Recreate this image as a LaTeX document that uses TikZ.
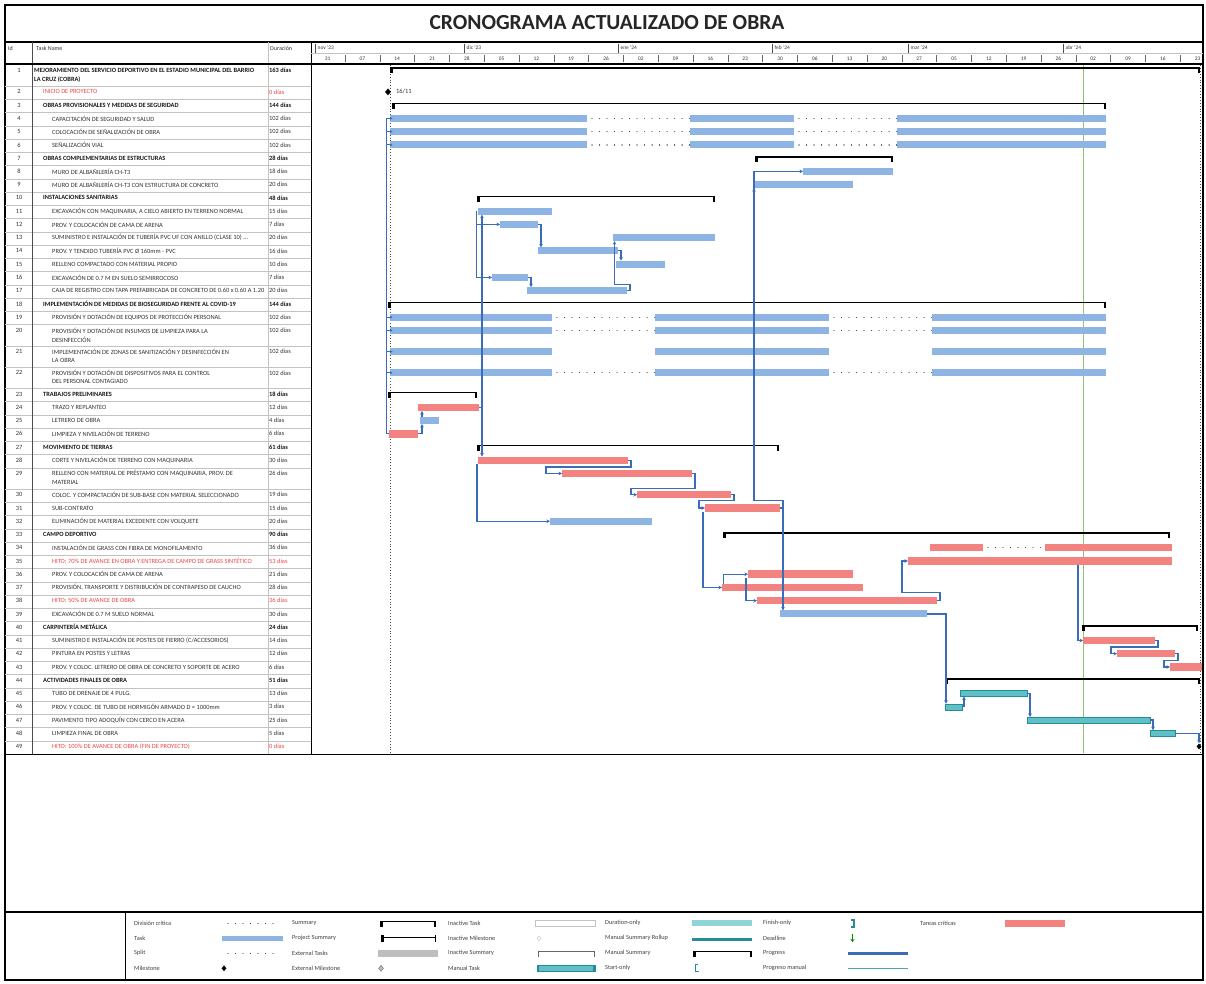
\documentclass[tikz,border=0pt]{standalone}
\usepackage{fontspec}
\setmainfont{Carlito}
\usetikzlibrary{arrows.meta,calc,shapes.geometric}
\definecolor{taskblue}{RGB}{141,180,226}
\definecolor{critred}{RGB}{242,131,128}
\definecolor{linkblue}{RGB}{58,108,184}
\definecolor{teal1}{RGB}{96,192,200}
\definecolor{teal2}{RGB}{40,140,150}
\definecolor{gridgray}{RGB}{195,195,195}
\definecolor{statgreen}{RGB}{140,195,110}
\definecolor{redtxt}{RGB}{235,70,70}
\definecolor{extgray}{RGB}{190,190,190}
\newcommand{\gbar}[5]{\node[#5, anchor=west, minimum width={(#4-#3)*1pt}] (#1) at (#3,#2) {};}
\newcommand{\gsum}[4]{\node[sumbar, anchor=west, minimum width={(#4-#3)*1pt}] (#1) at (#3,#2) {};
  \fill ($(#1.west)+(0,-0.8)$) rectangle ++(2.5,6);
  \fill ($(#1.east)+(-2.5,-0.8)$) rectangle ++(2.5,6);}
\begin{document}
\begin{tikzpicture}[x=1pt,y=-1pt,
  task/.style={fill=taskblue, inner sep=0, outer sep=0, minimum height=7pt, draw=none},
  crit/.style={fill=critred, inner sep=0, outer sep=0, minimum height=7.5pt, draw=none},
  mtask/.style={fill=teal1, inner sep=0, outer sep=0, minimum height=6pt, draw=teal2, line width=0.4pt},
  sumbar/.style={fill=black, inner sep=0, outer sep=0, minimum height=1.6pt},
  linkline/.style={draw=linkblue, line width=1.1pt},
  link/.style={draw=linkblue, line width=1.1pt, -{Stealth[length=3.5pt,width=3.6pt]}},
  splitdots/.style={draw=black!70, line width=1.3pt, dash pattern=on 0.01pt off 7.5pt, line cap=round},
  mil/.style={diamond, fill=black, inner sep=0, minimum width=6pt, minimum height=7pt},
  txt/.style={font=\fontsize{6.4}{9}\selectfont, inner sep=0, text=black!80},
  stxt/.style={txt, font=\fontsize{6.4}{9}\selectfont\bfseries, text=black!90},
  rtxt/.style={txt, text=redtxt},
  idtxt/.style={txt, anchor=center},
  hdr/.style={font=\fontsize{6}{7}\selectfont, inner sep=0, text=black!80},
  wk/.style={font=\fontsize{5.4}{6}\selectfont, inner sep=0, text=black!80},
  lg/.style={font=\fontsize{6.3}{7}\selectfont, inner sep=0, text=black!75, anchor=west}]
\useasboundingbox (0,0) rectangle (1206,983);
\fill[white] (0,0) rectangle (1206,983);

% ---------- frame and title
\draw[line width=1.2pt] (5,5) rectangle (1203,980);
\node[font=\fontsize{21.5}{24}\selectfont\bfseries, text=black!85, inner sep=0] (title) at (607,22.5) {CRONOGRAMA ACTUALIZADO DE OBRA};
\draw[line width=1.5pt] (5,42) -- (1203,42);

% ---------- table grid
\foreach \yy in {86.2,99.45,112.7,125.95,139.2,152.45,165.7,178.95,192.2,205.45,218.7,231.95,245.2,258.45,271.7,284.95,298.2,311.45,324.7,345.9,367.1,388.3,401.55,414.8,428.05,441.3,454.55,467.8,489.0,502.25,515.5,528.75,542.0,555.25,568.5,581.75,595.0,608.25,621.5,634.75,648.0,661.25,674.5,687.75,701.0,714.25,727.5,740.75}
  \draw[gridgray, line width=0.5pt] (5,\yy) -- (311,\yy);
\draw[black!70, line width=0.8pt] (32,42) -- (32,754);
\draw[gridgray, line width=0.6pt] (268,42) -- (268,754);
\draw[line width=1pt] (311,42) -- (311,754);
\draw[gridgray, line width=0.5pt] (311,53) -- (1203,53);
\draw[line width=1.3pt] (5,64) -- (1203,64);
\draw[line width=1pt] (5,754) -- (1203,754);
\draw[line width=1.2pt] (5,912) -- (1203,912);
\draw[line width=0.8pt] (125,912) -- (125,980);

% ---------- header
\node[hdr, anchor=west] (hId) at (8,48) {Id};
\node[hdr, anchor=west] (hName) at (36,48) {Task Name};
\node[hdr, anchor=west] (hDur) at (270,48) {Duración};
\foreach \mx/\ml [count=\i] in {315/nov '23,464/dic '23,618/ene '24,772/feb '24,908/mar '24,1063/abr '24}{
  \draw[black!70, line width=0.6pt] (\mx,43.5) -- (\mx,53);
  \node[wk, anchor=west] (mon\i) at (\mx+2.5,47.5) {\ml};}
\foreach \k in {1,...,25}
  \draw[black!60, line width=0.5pt] ({310.2+34.8*\k},55) -- ({310.2+34.8*\k},62);
\foreach \lab [count=\k from 0] in {31,07,14,21,28,05,12,19,26,02,09,16,23,30,06,13,20,27,05,12,19,26,02,09,16,23}
  \node[wk] (wk\k) at ({310.2+34.8*(\k+0.5)},58.5) {\lab};

% ---------- ids and durations
\foreach \n/\yy/\st/\d in {1/70.7/stxt/163 días,2/91.9/rtxt/0 días,3/105.15/stxt/144 días,4/118.4/txt/102 días,5/131.65/txt/102 días,6/144.9/txt/102 días,7/158.15/stxt/28 días,8/171.4/txt/18 días,9/184.65/txt/20 días,10/197.9/stxt/48 días,11/211.15/txt/15 días,12/224.4/txt/7 días,13/237.65/txt/20 días,14/250.9/txt/16 días,15/264.15/txt/10 días,16/277.4/txt/7 días,17/290.65/txt/20 días,18/303.9/stxt/144 días,19/317.15/txt/102 días,20/330.4/txt/102 días,21/351.6/txt/102 días,22/372.8/txt/102 días,23/394.0/stxt/18 días,24/407.25/txt/12 días,25/420.5/txt/4 días,26/433.75/txt/6 días,27/447.0/stxt/61 días,28/460.25/txt/30 días,29/473.5/txt/26 días,30/494.7/txt/19 días,31/507.95/txt/15 días,32/521.2/txt/20 días,33/534.45/stxt/90 días,34/547.7/txt/36 días,35/560.95/rtxt/53 días,36/574.2/txt/21 días,37/587.45/txt/28 días,38/600.7/rtxt/36 días,39/613.95/txt/30 días,40/627.2/stxt/24 días,41/640.45/txt/14 días,42/653.7/txt/12 días,43/666.95/txt/6 días,44/680.2/stxt/51 días,45/693.45/txt/13 días,46/706.7/txt/3 días,47/719.95/txt/25 días,48/733.2/txt/5 días,49/746.45/rtxt/0 días}{
  \node[idtxt] (id\n) at (19,\yy) {\n};
  \node[\st, anchor=west] (du\n) at (269,\yy) {\d};}

% ---------- task names
\begin{scope}
\clip (33,65) rectangle (267.5,754);
\node[stxt, anchor=west] (nm1) at (34,70.7) {MEJORAMIENTO DEL SERVICIO DEPORTIVO EN EL ESTADIO MUNICIPAL DEL BARRIO};
\node[stxt, anchor=west] (nm1b) at (34,79.7) {LA CRUZ (COBRA)};
\node[rtxt, anchor=west] (nm2) at (43,91.9) {INICIO DE PROYECTO};
\node[stxt, anchor=west] (nm3) at (43,105.15) {OBRAS PROVISIONALES Y MEDIDAS DE SEGURIDAD};
\node[txt, anchor=west] (nm4) at (52,118.4) {CAPACITACIÓN DE SEGURIDAD Y SALUD};
\node[txt, anchor=west] (nm5) at (52,131.65) {COLOCACIÓN DE SEÑALIZACIÓN DE OBRA};
\node[txt, anchor=west] (nm6) at (52,144.9) {SEÑALIZACIÓN VIAL};
\node[stxt, anchor=west] (nm7) at (43,158.15) {OBRAS COMPLEMENTARIAS DE ESTRUCTURAS};
\node[txt, anchor=west] (nm8) at (52,171.4) {MURO DE ALBAÑILERÍA CH-T3};
\node[txt, anchor=west] (nm9) at (52,184.65) {MURO DE ALBAÑILERÍA CH-T3 CON ESTRUCTURA DE CONCRETO};
\node[stxt, anchor=west] (nm10) at (43,197.9) {INSTALACIONES SANITARIAS};
\node[txt, anchor=west] (nm11) at (52,211.15) {EXCAVACIÓN CON MAQUINARIA, A CIELO ABIERTO EN TERRENO NORMAL};
\node[txt, anchor=west] (nm12) at (52,224.4) {PROV. Y COLOCACIÓN DE CAMA DE ARENA};
\node[txt, anchor=west] (nm13) at (52,237.65) {SUMINISTRO E INSTALACIÓN DE TUBERÍA PVC UF CON ANILLO (CLASE 10) ...};
\node[txt, anchor=west] (nm14) at (52,250.9) {PROV. Y TENDIDO TUBERÍA PVC Ø 160mm - PVC};
\node[txt, anchor=west] (nm15) at (52,264.15) {RELLENO COMPACTADO CON MATERIAL PROPIO};
\node[txt, anchor=west] (nm16) at (52,277.4) {EXCAVACIÓN DE 0.7 M EN SUELO SEMIRROCOSO};
\node[txt, anchor=west] (nm17) at (52,290.65) {CAJA DE REGISTRO CON TAPA PREFABRICADA DE CONCRETO DE 0.60 x 0.60 A 1.20};
\node[stxt, anchor=west] (nm18) at (43,303.9) {IMPLEMENTACIÓN DE MEDIDAS DE BIOSEGURIDAD FRENTE AL COVID-19};
\node[txt, anchor=west] (nm19) at (52,317.15) {PROVISIÓN Y DOTACIÓN DE EQUIPOS DE PROTECCIÓN PERSONAL};
\node[txt, anchor=west] (nm20) at (52,330.4) {PROVISIÓN Y DOTACIÓN DE INSUMOS DE LIMPIEZA PARA LA};
\node[txt, anchor=west] (nm20b) at (52,339.4) {DESINFECCIÓN};
\node[txt, anchor=west] (nm21) at (52,351.6) {IMPLEMENTACIÓN DE ZONAS DE SANITIZACIÓN Y DESINFECCIÓN EN};
\node[txt, anchor=west] (nm21b) at (52,360.6) {LA OBRA};
\node[txt, anchor=west] (nm22) at (52,372.8) {PROVISIÓN Y DOTACIÓN DE DISPOSITIVOS PARA EL CONTROL};
\node[txt, anchor=west] (nm22b) at (52,381.8) {DEL PERSONAL CONTAGIADO};
\node[stxt, anchor=west] (nm23) at (43,394.0) {TRABAJOS PRELIMINARES};
\node[txt, anchor=west] (nm24) at (52,407.25) {TRAZO Y REPLANTEO};
\node[txt, anchor=west] (nm25) at (52,420.5) {LETRERO DE OBRA};
\node[txt, anchor=west] (nm26) at (52,433.75) {LIMPIEZA Y NIVELACIÓN DE TERRENO};
\node[stxt, anchor=west] (nm27) at (43,447.0) {MOVIMIENTO DE TIERRAS};
\node[txt, anchor=west] (nm28) at (52,460.25) {CORTE Y NIVELACIÓN DE TERRENO CON MAQUINARIA};
\node[txt, anchor=west] (nm29) at (52,473.5) {RELLENO CON MATERIAL DE PRÉSTAMO CON MAQUINARIA, PROV. DE};
\node[txt, anchor=west] (nm29b) at (52,482.5) {MATERIAL};
\node[txt, anchor=west] (nm30) at (52,494.7) {COLOC. Y COMPACTACIÓN DE SUB-BASE CON MATERIAL SELECCIONADO};
\node[txt, anchor=west] (nm31) at (52,507.95) {SUB-CONTRATO};
\node[txt, anchor=west] (nm32) at (52,521.2) {ELIMINACIÓN DE MATERIAL EXCEDENTE CON VOLQUETE};
\node[stxt, anchor=west] (nm33) at (43,534.45) {CAMPO DEPORTIVO};
\node[txt, anchor=west] (nm34) at (52,547.7) {INSTALACIÓN DE GRASS CON FIBRA DE MONOFILAMENTO};
\node[rtxt, anchor=west] (nm35) at (52,560.95) {HITO: 70\% DE AVANCE EN OBRA Y ENTREGA DE CAMPO DE GRASS SINTÉTICO};
\node[txt, anchor=west] (nm36) at (52,574.2) {PROV. Y COLOCACIÓN DE CAMA DE ARENA};
\node[txt, anchor=west] (nm37) at (52,587.45) {PROVISIÓN, TRANSPORTE Y DISTRIBUCIÓN DE CONTRAPESO DE CAUCHO};
\node[rtxt, anchor=west] (nm38) at (52,600.7) {HITO: 50\% DE AVANCE DE OBRA};
\node[txt, anchor=west] (nm39) at (52,613.95) {EXCAVACIÓN DE 0.7 M SUELO NORMAL};
\node[stxt, anchor=west] (nm40) at (43,627.2) {CARPINTERÍA METÁLICA};
\node[txt, anchor=west] (nm41) at (52,640.45) {SUMINISTRO E INSTALACIÓN DE POSTES DE FIERRO (C/ACCESORIOS)};
\node[txt, anchor=west] (nm42) at (52,653.7) {PINTURA EN POSTES Y LETRAS};
\node[txt, anchor=west] (nm43) at (52,666.95) {PROV. Y COLOC. LETRERO DE OBRA DE CONCRETO Y SOPORTE DE ACERO};
\node[stxt, anchor=west] (nm44) at (43,680.2) {ACTIVIDADES FINALES DE OBRA};
\node[txt, anchor=west] (nm45) at (52,693.45) {TUBO DE DRENAJE DE 4 PULG.};
\node[txt, anchor=west] (nm46) at (52,706.7) {PROV. Y COLOC. DE TUBO DE HORMIGÓN ARMADO D = 1000mm};
\node[txt, anchor=west] (nm47) at (52,719.95) {PAVIMENTO TIPO ADOQUÍN CON CERCO EN ACERA};
\node[txt, anchor=west] (nm48) at (52,733.2) {LIMPIEZA FINAL DE OBRA};
\node[rtxt, anchor=west] (nm49) at (52,746.45) {HITO: 100\% DE AVANCE DE OBRA (FIN DE PROYECTO)};
\end{scope}

% ---------- chart reference lines
\draw[black!70, line width=0.9pt, dotted] (390,65) -- (390,753);
\draw[black!70, line width=0.9pt, dotted] (1200,65) -- (1200,753);
\draw[statgreen, line width=1pt] (1083,65) -- (1083,753);

% ---------- summaries
\gsum{s1}{68}{390}{1200}
\gsum{s3}{103.5}{392}{1106}
\gsum{s7}{156.75}{755}{893}
\gsum{s10}{196.5}{477}{715}
\gsum{s18}{302.5}{388}{1106}
\gsum{s23}{392.6}{388}{477}
\gsum{s27}{445.6}{477}{779}
\gsum{s33}{533}{723}{1170}
\gsum{s40}{625.8}{1082}{1198}
\gsum{s44}{678.8}{945}{1200}

% ---------- milestones
\node[mil] (m2) at (388,91.9) {};
\node[txt, anchor=west] (m2lab) at (396,91.9) {16/11};
\node[mil, minimum width=5pt, minimum height=6pt] (m49) at (1199,746.45) {};

% ---------- split tasks
\foreach \r/\yy in {4/118.4,5/131.65,6/144.9}{
  \gbar{t\r a}{\yy}{390}{587}{task}
  \gbar{t\r b}{\yy}{690}{794}{task}
  \gbar{t\r c}{\yy}{897}{1106}{task}
  \draw[splitdots] ($(t\r a.east)+(5,0)$) -- (t\r b.west);
  \draw[splitdots] ($(t\r b.east)+(5,0)$) -- (t\r c.west);}
\foreach \r/\yy in {19/317.15,20/330.4,21/351.6,22/372.8}{
  \gbar{t\r a}{\yy}{390}{552}{task}
  \gbar{t\r b}{\yy}{655}{829}{task}
  \gbar{t\r c}{\yy}{932}{1106}{task}}
\foreach \r in {19,20,22}{
  \draw[splitdots] ($(t\r a.east)+(5,0)$) -- (t\r b.west);
  \draw[splitdots] ($(t\r b.east)+(5,0)$) -- (t\r c.west);}

% ---------- tasks
\gbar{t8}{171.4}{803}{893}{task}
\gbar{t9}{184.65}{753}{853}{task}
\gbar{t11}{211.15}{478}{552}{task}
\gbar{t12}{224.4}{500}{538}{task}
\gbar{t13}{237.65}{613}{715}{task}
\gbar{t14}{250.9}{538}{618}{task}
\gbar{t15}{264.15}{616}{665}{task}
\gbar{t16}{277.4}{492}{528}{task}
\gbar{t17}{290.65}{527}{627}{task}
\gbar{t24}{407.25}{418}{479}{crit}
\gbar{t25}{420.5}{420}{439}{task}
\gbar{t26}{433.75}{389}{418}{crit}
\gbar{t28}{460.25}{478}{628}{crit}
\gbar{t29}{473.5}{562}{692}{crit}
\gbar{t30}{494.7}{637}{731}{crit}
\gbar{t31}{507.95}{705}{780}{crit}
\gbar{t32}{521.2}{550}{652}{task}
\gbar{t34a}{547.7}{930}{983}{crit}
\gbar{t34b}{547.7}{1045}{1172}{crit}
\draw[splitdots] ($(t34a.east)+(5,0)$) -- (t34b.west);
\gbar{t35}{560.95}{908}{1172}{crit}
\gbar{t36}{574.2}{748}{853}{crit}
\gbar{t37}{587.45}{722}{863}{crit}
\gbar{t38}{600.7}{757}{937}{crit}
\gbar{t39}{613.95}{780}{927}{task}
\gbar{t41}{640.45}{1083}{1155}{crit}
\gbar{t42}{653.7}{1117}{1175}{crit}
\gbar{t43}{666.95}{1170}{1202}{crit}
\gbar{t45}{693.45}{960}{1027}{mtask}
\gbar{t46}{706.7}{945}{962}{mtask}
\gbar{t47}{719.95}{1027}{1150}{mtask}
\gbar{t48}{733.2}{1150}{1175}{mtask}

% ---------- links
\draw[linkline] (t26.west) -- ++(-2.5,0) -- ($(t4a.west)+(-3.5,0)$);
\foreach \b in {t4a,t5a,t6a,t19a,t20a,t21a,t22a}
  \draw[link, -{Stealth[length=2.6pt,width=3pt]}] ($(\b.west)+(-3.5,0)$) -- ($(\b.west)+(2.5,0)$);
\draw[link] (t26.east) -| ($(t25.south west)+(2,0)$);
\draw[link] ($(t25.north west)+(2,0)$) -- ($(t24.south west)+(4,0)$);
\draw[linkline] (t24.east) -- ++(3,0) coordinate (j1);
\draw[link] (j1) -- (j1 |- t11.south);
\draw[link] (j1) -- (j1 |- t28.north);
\draw[link] ($(t11.west)+(-1.5,0)$) |- (t12.west);
\draw[link] ($(t11.west)+(-1.5,0)$) |- (t16.west);
\draw[link] (t12.east) -- ++(3,0) coordinate (j3) -- (j3 |- t14.north);
\draw[link] (t14.east) -- ++(3,0) coordinate (j4) -- (j4 |- t15.north);
\draw[link] (t16.east) -- ++(3,0) coordinate (j5) -- (j5 |- t17.north);
\draw[link] (t17.east) -- ++(3,0) -- ++(0,-6) -| ($(t13.south west)+(1.5,0)$);
\draw[link] ($(t28.south west)+(-1,0)$) |- (t32.west);
\draw[link] (t28.east) -- ++(3,0) |- (546,467) |- (t29.west);
\draw[link] (t29.east) -- ++(3,0) |- (631,488.5) |- (t30.west);
\draw[link] (t30.east) -- ++(3,0) |- (699,500.8) |- (t31.west);
\draw[linkline] (t31.east) -- ++(3,0) coordinate (j6);
\draw[link] (j6) |- (754,500.8) |- (t8.west);
\draw[link] ($(t9.south west)+(1,12)$) -- ($(t9.south west)+(1,0)$);
\draw[link] (j6) -- (j6 |- t39.north);
\draw[link] ($(t31.south west)+(-2,0)$) |- (t37.west);
\draw[link] ($(t37.north west)+(1.5,0)$) |- (t36.west);
\draw[link] ($(t36.south west)+(-2,0)$) |- (t38.west);
\draw[link] (t38.east) -- ++(3,0) |- (902,592.5) |- (t35.west);
\draw[link] ($(t35.south west)+(170,0)$) |- (t41.west);
\draw[link] (t41.east) -- ++(3,0) |- (1111,647) |- (t42.west);
\draw[link] (t42.east) -- ++(3,0) |- (1164,660.3) |- (t43.west);
\draw[link] (t39.east) -| ($(t46.north west)+(1,0)$);
\draw[link] (t46.east) -- ++(2,0) coordinate (j7) -- (j7 |- t45.south);
\draw[link] (t45.east) -- ++(3,0) coordinate (j8) -- (j8 |- t47.north);
\draw[link] (t47.east) -- ++(3,0) coordinate (j9) -- (j9 |- t48.north);
\draw[link] (t48.east) -| (m49.north);

% ---------- legend
\node[lg] (l11) at (134,923.3) {División crítica};
\node[lg] (l12) at (134,938.3) {Task};
\node[lg] (l13) at (134,953.3) {Split};
\node[lg] (l14) at (134,968.3) {Milestone};
\draw[splitdots] (228,923.3) -- (279,923.3);
\node[task, minimum width=61pt, minimum height=5pt, anchor=west] (lgtask) at (222,938.3) {};
\draw[splitdots] (228,953.3) -- (279,953.3);
\node[mil, minimum width=5pt, minimum height=6pt] (lgmil) at (224,968.3) {};

\node[lg] (l21) at (292,923.3) {Summary};
\node[lg] (l22) at (292,938.3) {Project Summary};
\node[lg] (l23) at (292,953.3) {External Tasks};
\node[lg] (l24) at (292,968.3) {External Milestone};
\gsum{lgsum}{921.5}{380}{436}
\draw[line width=0.8pt] (381,937.5) -- (435,937.5);
\fill (381,935) rectangle (383.5,941.5);
\draw[line width=0.8pt] (435,935) -- (435,941.5);
\node[fill=extgray, inner sep=0, minimum width=60pt, minimum height=7pt, anchor=west] (lgext) at (378,953.3) {};
\node[diamond, draw=black!60, fill=extgray, inner sep=0, minimum width=5pt, minimum height=6pt] (lgextm) at (381,968.3) {};

\node[lg] (l31) at (448,923.3) {Inactive Task};
\node[lg] (l32) at (448,938.3) {Inactive Milestone};
\node[lg] (l33) at (448,953.3) {Inactive Summary};
\node[lg] (l34) at (448,968.3) {Manual Task};
\node[draw=gridgray, fill=white, inner sep=0, minimum width=60pt, minimum height=6pt, anchor=west] (lginact) at (535,923.3) {};
\node[diamond, draw=gridgray, inner sep=0, minimum width=4pt, minimum height=5pt] (lginm) at (539,938.3) {};
\draw[black!60, line width=0.6pt] (538,956.5) -- (538,951.5) -- (594,951.5) -- (594,956.5);
\node[mtask, minimum width=58pt, anchor=west] (lgman) at (537,968.3) {};
\fill[teal2] (537,965.3) rectangle (539,971.3);
\fill[teal2] (593,965.3) rectangle (595,971.3);

\node[lg] (l41) at (605,923.3) {Duration-only};
\node[lg] (l42) at (605,938.3) {Manual Summary Rollup};
\node[lg] (l43) at (605,953.3) {Manual Summary};
\node[lg] (l44) at (605,968.3) {Start-only};
\node[fill=teal1!70, inner sep=0, minimum width=60pt, minimum height=6pt, anchor=west] (lgdur) at (692,923.3) {};
\node[fill=teal2, inner sep=0, minimum width=60pt, minimum height=3pt, anchor=west] (lgmsr) at (692,939) {};
\gsum{lgmsum}{951.5}{693}{752}
\draw[teal2, line width=1.3pt] (698,964.5) -- (695.5,964.5) -- (695.5,971.5) -- (698.5,971.5);

\node[lg] (l51) at (763,923.3) {Finish-only};
\node[lg] (l52) at (763,938.3) {Deadline};
\node[lg] (l53) at (763,953.3) {Progress};
\node[lg] (l54) at (763,968.3) {Progreso manual};
\draw[teal2, line width=1.3pt] (851,920) -- (854,920) -- (854,927) -- (851,927);
\draw[green!55!black, line width=1pt, -{Stealth[length=3pt,width=4pt]}] (852.5,934) -- (852.5,942);
\draw[linkblue, line width=3pt] (848,953.3) -- (908,953.3);
\draw[teal2!80, line width=1pt] (848,968.3) -- (908,968.3);

\node[lg] (l61) at (920,923.3) {Tareas críticas};
\node[crit, minimum width=60pt, anchor=west] (lgcrit) at (1005,923.3) {};
\end{tikzpicture}
\end{document}
